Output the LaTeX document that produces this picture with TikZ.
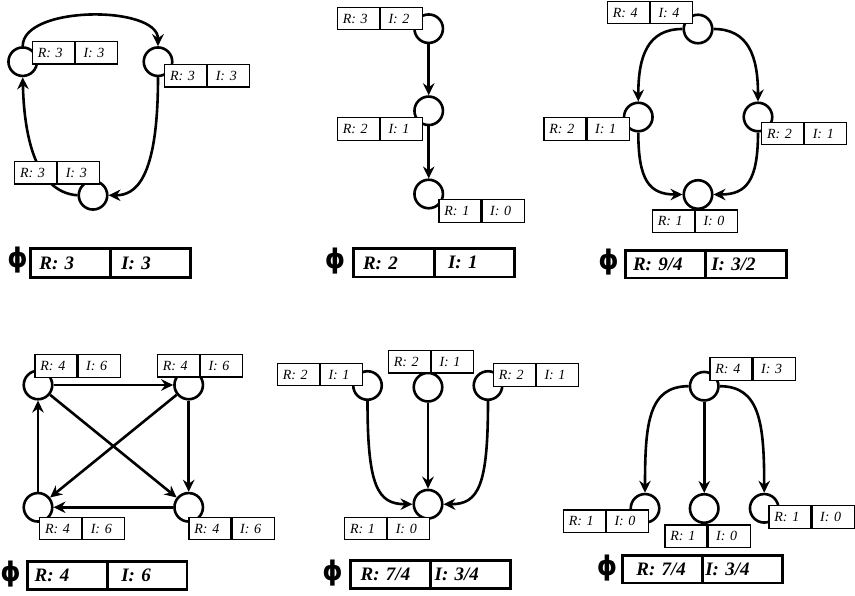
\documentclass[tikz,border=0pt]{standalone}
\usepackage{fontspec}
\setmainfont{Liberation Serif}
\newfontfamily\phifont{DejaVu Sans}
\usetikzlibrary{arrows.meta}

% two-cell R/I tag attached to a vertex
\newcommand{\rilabel}[5]{%
  \node[cell,anchor=north west,minimum width=42pt,inner xsep=5.5pt,text width=31pt] (#1r) at (#2,#3) {R: #4};
  \node[cell,anchor=north west,minimum width=42pt,inner xsep=8pt,text width=26pt] (#1i) at (#1r.north east) {I: #5};}

% one cell of a summary row: name, left, top, right, bottom, padding, text
\newcommand{\phicell}[7]{%
  \pgfmathsetmacro\cw{#4-#2}\pgfmathsetmacro\ch{#5-#3}\pgfmathsetmacro\tw{\cw-2*#6}%
  \node[phicellbox,anchor=north west,minimum width=\cw pt,minimum height=\ch pt,inner xsep=#6pt,text width=\tw pt] (#1) at (#2,#3) {#7};}

\begin{document}
\begin{tikzpicture}[x=1pt,y=-1pt,
  vtx/.style={circle,draw,line width=2.6pt,fill=white,minimum size=28.5pt,inner sep=0pt},
  cell/.style={draw,fill=white,line width=1.2pt,minimum height=22.5pt,inner ysep=0pt,align=left,
    font=\fontsize{14}{14}\selectfont\itshape},
  phicellbox/.style={draw,fill=white,line width=2.7pt,inner ysep=0pt,align=left,
    font=\fontsize{19}{19}\selectfont\bfseries\itshape},
  phisym/.style={inner sep=0pt,xscale=0.95,transform shape,font=\phifont\bfseries\fontsize{27}{27}\selectfont},
  link/.style={line width=2.6pt,-{Stealth[length=12pt,width=11.5pt,inset=4pt]}},
]
\useasboundingbox (0,0) rectangle (855,596);

% ---------- cycle of three ----------
\node[vtx] (a1) at (22.7,61.7) {};
\node[vtx] (a2) at (158,61.7) {};
\node[vtx] (a3) at (93,195.3) {};
\draw[link] (a1.north) .. controls +(0,-41) and +(0,-41) .. (a2.north);
\draw[link] (a2.south) .. controls +(0,103) and +(26.5,0) .. (a3.east);
\draw[link] (a3.west) .. controls +(-43.8,-3.3) and +(1.3,54) .. (a1.south);
\rilabel{la1}{31.7}{41}{3}{3}
\rilabel{la2}{164}{64}{3}{3}
\rilabel{la3}{14}{161}{3}{3}

% ---------- chain ----------
\node[vtx] (b1) at (428.7,28.7) {};
\node[vtx] (b2) at (428.7,110.8) {};
\node[vtx] (b3) at (428.7,194) {};
\draw[link] (b1) -- (b2);
\draw[link] (b2) -- (b3);
\rilabel{lb1}{336.7}{6.7}{3}{2}
\rilabel{lb2}{336.7}{117.3}{2}{1}
\rilabel{lb3}{438.3}{199.3}{1}{0}

% ---------- diamond ----------
\node[vtx] (c1) at (698,29) {};
\node[vtx] (c2) at (638.3,117) {};
\node[vtx] (c3) at (758,117) {};
\node[vtx] (c4) at (698,194.5) {};
\draw[link] (c1.west) .. controls +(-35,0) and +(0,-45) .. (c2.north);
\draw[link] (c1.east) .. controls +(35,0) and +(0,-45) .. (c3.north);
\draw[link] (c2.south) .. controls +(0,48) and +(-33,0) .. (c4.west);
\draw[link] (c3.south) .. controls +(0,48) and +(33,0) .. (c4.east);
\rilabel{lc1}{606.7}{0.8}{4}{4}
\rilabel{lc2}{543.3}{117.3}{2}{1}
\rilabel{lc3}{761}{121.7}{2}{1}
\rilabel{lc4}{651.7}{209.5}{1}{0}

% ---------- complete square ----------
\node[vtx] (d1) at (38,385) {};
\node[vtx] (d2) at (188.7,385) {};
\node[vtx] (d3) at (38,507.3) {};
\node[vtx] (d4) at (188.7,507.3) {};
\draw[link] (d1) -- (d2);
\draw[link] (d2) -- (d4);
\draw[link] (d4) -- (d3);
\draw[link] (d3) -- (d1);
\draw[link] (d1) -- (d4);
\draw[link] (d2) -- (d3);
\rilabel{ld1}{34.3}{354.3}{4}{6}
\rilabel{ld2}{156.7}{354}{4}{6}
\rilabel{ld3}{39}{516.7}{4}{6}
\rilabel{ld4}{188.3}{516.7}{4}{6}

% ---------- three into one ----------
\node[vtx] (e1) at (367.5,385.5) {};
\node[vtx] (e2) at (428,387.2) {};
\node[vtx] (e3) at (488,385.5) {};
\node[vtx] (e4) at (428,504.2) {};
\draw[link] (e1.south) .. controls +(0,85) and +(-35,0) .. (e4.west);
\draw[link] (e2) -- (e4);
\draw[link] (e3.south) .. controls +(0,85) and +(35,0) .. (e4.east);
\rilabel{le1}{276.7}{362.7}{2}{1}
\rilabel{le2}{387.7}{350}{2}{1}
\rilabel{le3}{492.7}{363.3}{2}{1}
\rilabel{le4}{344}{516.7}{1}{0}

% ---------- one into three ----------
\node[vtx] (f1) at (704.2,386.2) {};
\node[vtx] (f2) at (645,508.3) {};
\node[vtx] (f3) at (704.2,508.5) {};
\node[vtx] (f4) at (764.2,508.3) {};
\draw[link] (f1.west) .. controls +(-40,0) and +(0,-70) .. (f2.north);
\draw[link] (f1) -- (f3);
\draw[link] (f1.east) .. controls +(40,0) and +(0,-70) .. (f4.north);
\rilabel{lf1}{709.3}{357.3}{4}{3}
\rilabel{lf2}{562.7}{509.3}{1}{0}
\rilabel{lf3}{664.3}{524.3}{1}{0}
\rilabel{lf4}{768.3}{505}{1}{0}

% ---------- summary rows ----------
\node[phisym] (pa) at (17.5,260) {ϕ};
\phicell{pa1}{29.3}{247.3}{109.3}{276}{8.7}{R: 3}
\phicell{pa2}{109.3}{247.3}{189}{276}{10.7}{I: 3}

\node[phisym] (pb) at (335,261) {ϕ};
\phicell{pb1}{352.3}{247.3}{433.3}{275.7}{9.4}{R: 2}
\phicell{pb2}{433.3}{247.3}{513.3}{275.7}{13.4}{I: 1}

\node[phisym] (pc) at (608.7,262) {ϕ};
\phicell{pc1}{624.3}{249}{704.3}{276.7}{7.4}{R: 9/4}
\phicell{pc2}{704.3}{249}{785}{276.7}{5.7}{I: 3/2}

\node[phisym] (pd) at (10.7,574) {ϕ};
\phicell{pd1}{26}{560}{106}{588.3}{7.3}{R: 4}
\phicell{pd2}{106}{560}{185.7}{588.3}{14}{I: 6}

\node[phisym] (pe) at (332.5,573) {ϕ};
\phicell{pe1}{349}{559.3}{429}{587.3}{10.3}{R: 7/4}
\phicell{pe2}{429}{559.3}{509}{587.3}{4.3}{I: 3/4}

\node[phisym] (pf) at (607,568) {ϕ};
\phicell{pf1}{621}{554}{701}{581.7}{14}{R: 7/4}
\phicell{pf2}{701}{554}{781}{581.7}{3}{I: 3/4}
\end{tikzpicture}
\end{document}
